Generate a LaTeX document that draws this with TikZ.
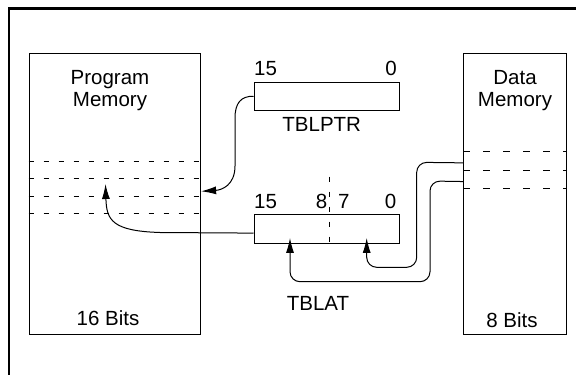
\documentclass[tikz,border=0pt]{standalone}
\usepackage{fontspec}
\setmainfont{Liberation Sans}
\usetikzlibrary{arrows.meta,calc}
\begin{document}
\begin{tikzpicture}[x=1pt,y=-1pt,
  every node/.style={font=\fontsize{20.5}{22}\selectfont},
  membox/.style={draw,line width=1.1pt,inner sep=0pt,anchor=north west},
  regbox/.style={draw,line width=1.1pt,inner sep=0pt,anchor=north west,minimum width=145.5pt,minimum height=28.5pt},
  lbl/.style={inner sep=0pt},
  pmdash/.style={line width=0.9pt,dash pattern=on 5pt off 10pt},
  dmdash/.style={line width=0.9pt,dash pattern=on 6.5pt off 13.5pt},
  conn/.style={line width=1pt,rounded corners=10pt},
  arr/.style={-{Latex[length=15pt,width=8pt]}},
  frame/.style={line width=2.5pt}
]
\useasboundingbox (0,0) rectangle (576,375);
\draw[frame] (9,376) -- (9,8.5) -- (577,8.5);

% memories
\node[membox,minimum width=170.8pt,minimum height=280.5pt] (pm) at (28.7,53) {};
\node[membox,minimum width=103pt,minimum height=281pt] (dm) at (463,53) {};
\node[lbl,align=center,anchor=north] (pmt) at (110,70) {Program\\Memory};
\node[lbl,align=center,anchor=north] (dmt) at (515,70) {Data\\Memory};
\node[lbl,anchor=base] (pmb) at (108,325) {16 Bits};
\node[lbl,anchor=base] (dmb) at (512,327) {8 Bits};

% dashed rows
\foreach \yy in {161.7,178.3,196,213.5}
  \draw[pmdash] (28.7,\yy) -- (199.5,\yy);
\foreach \yy in {151.7,170.7,188}
  \draw[dmdash] (463,\yy) -- (566,\yy);

% registers
\node[regbox,minimum height=28pt] (ptr) at (253.5,81.7) {};
\node[regbox] (lat) at (253.5,214.3) {};
\node[lbl,anchor=base west] (p15) at (254,75) {15};
\node[lbl,anchor=base east] (p0) at (397,75) {0};
\node[lbl,anchor=base] (ptrl) at (321.7,131) {TBLPTR};
\node[lbl,anchor=base west] (l15) at (254,208.5) {15};
\node[lbl,anchor=base east] (l8) at (327.5,208.5) {8};
\node[lbl,anchor=base west] (l7) at (338,208.5) {7};
\node[lbl,anchor=base east] (l0) at (396.5,208.5) {0};
\node[lbl,anchor=base] (latl) at (318,310) {TBLAT};
\draw[line width=0.9pt,dash pattern=on 5pt off 10pt] (329.4,176.7) -- (329.4,242.7);

% connectors
\draw[line width=1pt,arr] (ptr.west) .. controls (241,96) and (235,103) .. (235,118)
  -- (235,166) .. controls (235,185) and (222,190) .. ($(pm.east)+(0.5,-2.5)$);
\draw[line width=1pt,arr] ($(lat.west)+(0,4)$) -- (160,232.5)
  .. controls (112,231) and (106.5,220) .. (105.5,184);
\draw[conn,arr] ($(dm.west)+(0,-31.2)$) -- (416.7,162.3) -- (416.7,267.3)
  -- (366.7,267.3) -- ($(lat.south west)+(113.2,-6)$);
\draw[conn,arr] ($(dm.west)+(0,-12.5)$) -- (430,181) -- (430,281.7)
  -- (290,281.7) -- ($(lat.south west)+(36.5,-6)$);
\end{tikzpicture}
\end{document}
